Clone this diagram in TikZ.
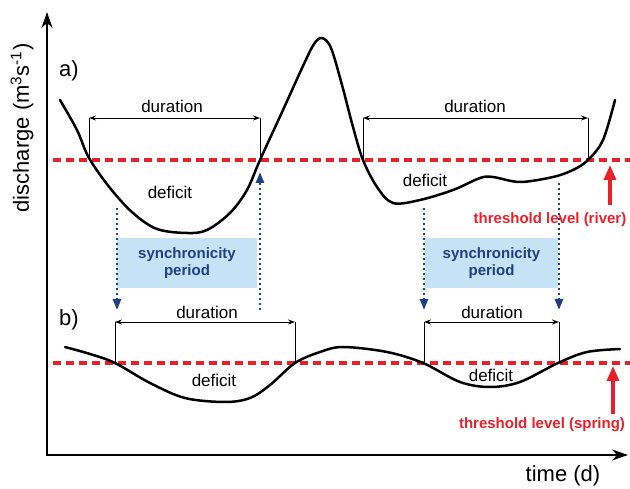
\documentclass[tikz,border=0pt]{standalone}
\usepackage{fontspec}
\setmainfont{Liberation Sans}
\usetikzlibrary{arrows.meta}
\definecolor{thred}{HTML}{E8202A}
\definecolor{syncblue}{HTML}{1F3F80}
\definecolor{syncfill}{HTML}{C6E3F5}
\begin{document}
\begin{tikzpicture}[x=1pt,y=-1pt,
  axisline/.style={line width=2.8pt, {Stealth[length=16pt,width=11pt]}-{Stealth[length=16pt,width=11pt]}},
  curve/.style={line width=2.5pt, line join=round, line cap=round},
  thresh/.style={thred, line width=3.4pt, dash pattern=on 8pt off 5pt},
  durbar/.style={line width=0.9pt, {Stealth[length=7pt,width=5pt]}-{Stealth[length=7pt,width=5pt]}},
  durtick/.style={line width=0.9pt},
  lbl/.style={font=\fontsize{17}{19}\selectfont, inner sep=0pt},
  biglbl/.style={font=\fontsize{22}{24}\selectfont, inner sep=0pt},
  redlbl/.style={font=\bfseries\fontsize{15}{17}\selectfont, text=thred, inner sep=0pt},
  redarrow/.style={thred, line width=3.2pt, -{Triangle[length=15pt,width=12pt]}},
  syncbox/.style={fill=syncfill, draw=none, minimum height=50pt, align=center, text=syncblue,
    font=\bfseries\fontsize{15}{16.5}\selectfont},
  syncarrow/.style={syncblue, line width=2.6pt, dash pattern=on 2.4pt off 2.6pt, -{Triangle[length=11pt,width=8pt]}}
]
\useasboundingbox (0,0) rectangle (630,489);

% axes
\coordinate (ytop) at (47,12);
\coordinate (origin) at (47,455);
\coordinate (xend) at (628,455);
\draw[axisline] (ytop) -- (origin) -- (xend);
\node[biglbl, rotate=90] (ylab) at (22,128) {discharge (m\textsuperscript{3}s\textsuperscript{-1})};
\node[biglbl] (xlab) at (563,476) {time (d)};
\node[biglbl] (pa) at (69,71) {a)};
\node[biglbl] (pb) at (69,320) {b)};

% synchronicity boxes
\node[syncbox, minimum width=140pt] (sync1) at (187,263) {synchronicity\\period};
\node[syncbox, minimum width=133pt] (sync2) at (491.5,263) {synchronicity\\period};

% threshold lines
\coordinate (tr0) at (53,160); \coordinate (tr1) at (630,160);
\coordinate (ts0) at (53,363); \coordinate (ts1) at (630,363);
\draw[thresh] (tr0) -- (tr1);
\draw[thresh] (ts0) -- (ts1);

% river curve
\draw[curve] plot[smooth, tension=0.55] coordinates {
  (60,100) (77,130) (89,158) (110,188) (133,213) (157,229) (187,233) (207,230)
  (230,213) (247,190) (260,160) (283,110) (303,66) (314,44) (322,38) (331,48)
  (342,85) (353,127) (363,160) (377,187) (393,203) (420,200) (453,190) (480,178)
  (493,177) (520,182) (553,177) (573,170) (588,160) (603,140) (615,100)};

% spring curve
\draw[curve] plot[smooth, tension=0.55] coordinates {
  (65,347) (90,354) (115,363) (150,383) (185,398) (225,402) (250,398) (270,385)
  (295,363) (320,352) (343,347) (387,352) (423,363) (460,382) (490,387) (520,382)
  (558,363) (587,352) (620,349)};

% duration bars (river)
\coordinate (a1t) at (89,118);  \coordinate (a1b) at (89,160);
\coordinate (a2t) at (260,118); \coordinate (a2b) at (260,160);
\coordinate (a3t) at (363,118); \coordinate (a3b) at (363,160);
\coordinate (a4t) at (588,118); \coordinate (a4b) at (588,160);
\draw[durtick] (a1t) -- (a1b); \draw[durtick] (a2t) -- (a2b);
\draw[durtick] (a3t) -- (a3b); \draw[durtick] (a4t) -- (a4b);
\draw[durbar] (a1t) -- (a2t);
\draw[durbar] (a3t) -- (a4t);
\node[lbl] (da1) at (172,106) {duration};
\node[lbl] (da2) at (475,106) {duration};
\node[lbl] (dfa1) at (170,192) {deficit};
\node[lbl] (dfa2) at (425,180) {deficit};

% duration bars (spring)
\coordinate (b1t) at (115,322); \coordinate (b1b) at (115,363);
\coordinate (b2t) at (295,322); \coordinate (b2b) at (295,363);
\coordinate (b3t) at (424,322); \coordinate (b3b) at (424,363);
\coordinate (b4t) at (559,322); \coordinate (b4b) at (559,363);
\draw[durtick] (b1t) -- (b1b); \draw[durtick] (b2t) -- (b2b);
\draw[durtick] (b3t) -- (b3b); \draw[durtick] (b4t) -- (b4b);
\draw[durbar] (b1t) -- (b2t);
\draw[durbar] (b3t) -- (b4t);
\node[lbl] (db1) at (207,312) {duration};
\node[lbl] (db2) at (492,312) {duration};
\node[lbl] (dfb1) at (214,380) {deficit};
\node[lbl] (dfb2) at (491,375) {deficit};

% synchronicity arrows
\coordinate (s1a) at (117,208); \coordinate (s1b) at (117,310);
\coordinate (s2a) at (260,310); \coordinate (s2b) at (260,172);
\coordinate (s3a) at (424,208); \coordinate (s3b) at (424,310);
\coordinate (s4a) at (559,183); \coordinate (s4b) at (559,310);
\draw[syncarrow] (s1a) -- (s1b);
\draw[syncarrow] (s2a) -- (s2b);
\draw[syncarrow] (s3a) -- (s3b);
\draw[syncarrow] (s4a) -- (s4b);

% threshold arrows and labels
\coordinate (ra0) at (610,205); \coordinate (ra1) at (610,165);
\coordinate (sa0) at (613,414); \coordinate (sa1) at (613,366);
\draw[redarrow] (ra0) -- (ra1);
\draw[redarrow] (sa0) -- (sa1);
\node[redlbl] (rlab) at (550,220) {threshold level (river)};
\node[redlbl] (slab) at (542,425) {threshold level (spring)};
\end{tikzpicture}
\end{document}
